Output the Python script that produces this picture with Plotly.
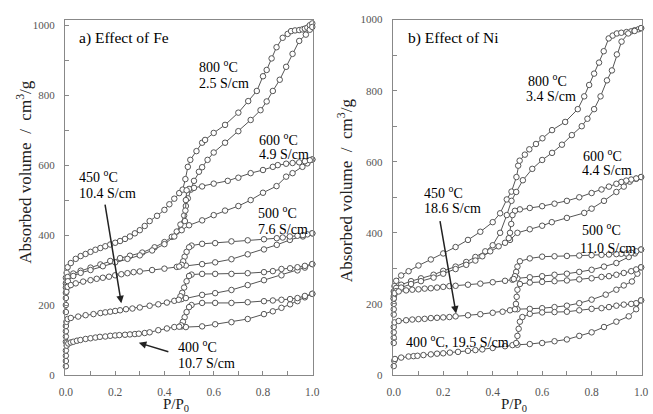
import plotly.graph_objects as go

# ---------------- Panel a) Effect of Fe ----------------
fe800_up_x = [0, 0, 0.003, 0.007, 0.02, 0.04, 0.06, 0.08, 0.1, 0.12, 0.14, 0.16, 0.18, 0.2, 0.22, 0.24, 0.26, 0.28, 0.3, 0.32, 0.34, 0.37, 0.4, 0.42, 0.44, 0.46, 0.474, 0.485, 0.495, 0.505, 0.53, 0.553, 0.565, 0.6, 0.646, 0.7, 0.74, 0.775, 0.8, 0.815, 0.835, 0.855, 0.88, 0.9, 0.914, 0.93, 0.947, 0.96, 0.97, 0.98, 0.99, 1.0]
fe800_up_y = [262, 278, 292, 308, 320, 332, 340, 346, 352, 358, 363, 368, 373, 378, 383, 389, 396, 405, 414, 426, 440, 455, 472, 488, 504, 520, 530, 560, 595, 615, 640, 664, 672, 692, 715, 750, 783, 812, 854, 872, 905, 937, 964, 975, 983, 985, 986, 988, 990, 993, 1000, 1005]
fe800_lo_x = [0, 0.003, 0.007, 0.03, 0.06, 0.1, 0.14, 0.18, 0.22, 0.26, 0.31, 0.36, 0.4, 0.43, 0.45, 0.465, 0.48, 0.487, 0.495, 0.507, 0.52, 0.54, 0.553, 0.575, 0.6, 0.646, 0.7, 0.75, 0.79, 0.815, 0.84, 0.868, 0.894, 0.92, 0.947, 0.974, 0.99, 1.0]
fe800_lo_y = [250, 266, 280, 290, 298, 307, 316, 326, 334, 341, 350, 365, 380, 395, 410, 430, 456, 483, 505, 530, 555, 581, 594, 615, 636, 664, 697, 729, 757, 782, 812, 844, 881, 918, 955, 973, 987, 995]
fe600_ads_x = [0, 0.003, 0.008, 0.03, 0.06, 0.1, 0.15, 0.2, 0.25, 0.3, 0.35, 0.4, 0.44, 0.47, 0.5, 0.553, 0.6, 0.646, 0.7, 0.75, 0.8, 0.855, 0.894, 0.92, 0.96, 0.98, 1.0]
fe600_ads_y = [235, 252, 268, 283, 292, 300, 311, 322, 332, 342, 356, 374, 396, 414, 428, 442, 457, 470, 483, 500, 521, 540, 567, 577, 595, 605, 616]
fe600_des_x = [1.0, 0.99, 0.97, 0.947, 0.92, 0.894, 0.86, 0.84, 0.8, 0.75, 0.7, 0.657, 0.6, 0.553, 0.52, 0.5, 0.49, 0.487, 0.485, 0.483]
fe600_des_y = [616, 614, 611, 608, 606, 604, 600, 595, 586, 577, 564, 555, 547, 539, 535, 532, 528, 500, 470, 440]
fe500_ads_x = [0, 0, 0, 0.002, 0.007, 0.02, 0.04, 0.07, 0.1, 0.125, 0.15, 0.175, 0.2, 0.225, 0.25, 0.275, 0.3, 0.35, 0.4, 0.45, 0.487, 0.553, 0.606, 0.672, 0.738, 0.804, 0.856, 0.909, 0.962, 1.0]
fe500_ads_y = [180, 200, 220, 238, 252, 257, 262, 267, 271, 275, 278, 281, 285, 288, 291, 294, 296, 300, 304, 309, 313, 317, 322, 331, 345, 359, 372, 386, 396, 405]
fe500_des_x = [1.0, 0.98, 0.962, 0.94, 0.909, 0.88, 0.856, 0.804, 0.738, 0.672, 0.606, 0.553, 0.51, 0.5, 0.49, 0.482, 0.476, 0.47, 0.46]
fe500_des_y = [405, 402, 400, 398, 396, 393, 391, 388, 385, 382, 377, 375, 370, 365, 352, 338, 325, 315, 310]
fe450_ads_x = [0, 0, 0, 0, 0.002, 0.007, 0.02, 0.05, 0.08, 0.112, 0.14, 0.16, 0.18, 0.2, 0.22, 0.244, 0.27, 0.3, 0.34, 0.375, 0.41, 0.44, 0.47, 0.487, 0.553, 0.606, 0.672, 0.738, 0.804, 0.875, 0.94, 0.97, 1.0]
fe450_ads_y = [95, 110, 125, 140, 152, 160, 163, 167, 171, 174, 177, 179, 181, 183, 185, 188, 190, 193, 198, 202, 207, 212, 217, 220, 229, 234, 243, 257, 271, 285, 299, 307, 317]
fe450_des_x = [1.0, 0.97, 0.94, 0.91, 0.875, 0.84, 0.804, 0.738, 0.672, 0.606, 0.553, 0.51, 0.5, 0.49, 0.48, 0.472, 0.465, 0.458]
fe450_des_y = [317, 312, 308, 305, 303, 297, 294, 291, 289, 289, 289, 287, 283, 268, 250, 235, 225, 215]
fe400_ads_x = [0, 0, 0, 0, 0.003, 0.01, 0.02, 0.03, 0.045, 0.059, 0.08, 0.1, 0.12, 0.138, 0.16, 0.18, 0.2, 0.217, 0.24, 0.26, 0.28, 0.296, 0.32, 0.34, 0.375, 0.41, 0.44, 0.47, 0.487, 0.553, 0.606, 0.672, 0.738, 0.804, 0.84, 0.875, 0.91, 0.94, 0.97, 1.0]
fe400_ads_y = [25, 40, 55, 70, 84, 90, 93, 95, 98, 100, 103, 105, 107, 109, 110, 112, 113, 114, 115, 116, 117, 118, 120, 122, 128, 133, 137, 139, 137, 139, 145, 151, 160, 174, 182, 192, 202, 211, 222, 232]
fe400_des_x = [1.0, 0.97, 0.94, 0.91, 0.875, 0.84, 0.804, 0.738, 0.672, 0.606, 0.553, 0.51, 0.5, 0.49, 0.482, 0.475, 0.468, 0.46]
fe400_des_y = [232, 226, 220, 217, 215, 213, 211, 208, 206, 206, 206, 200, 194, 180, 165, 152, 142, 138]

# ---------------- Panel b) Effect of Ni ----------------
ni800_up_x = [0, 0.003, 0.01, 0.03, 0.06, 0.1, 0.15, 0.2, 0.25, 0.3, 0.35, 0.4, 0.43, 0.457, 0.476, 0.496, 0.503, 0.509, 0.53, 0.548, 0.575, 0.601, 0.64, 0.693, 0.744, 0.77, 0.79, 0.81, 0.83, 0.849, 0.869, 0.885, 0.902, 0.92, 0.941, 0.96, 0.974, 0.99, 1.0]
ni800_up_y = [235, 250, 265, 280, 292, 308, 325, 342, 360, 380, 403, 430, 455, 494, 516, 557, 589, 603, 620, 635, 650, 666, 689, 712, 748, 784, 816, 848, 879, 911, 947, 955, 961, 963, 965, 967, 970, 973, 976]
ni800_lo_x = [0, 0.003, 0.01, 0.03, 0.07, 0.11, 0.161, 0.2, 0.25, 0.293, 0.33, 0.37, 0.4, 0.43, 0.457, 0.476, 0.495, 0.522, 0.56, 0.6, 0.64, 0.68, 0.72, 0.76, 0.783, 0.81, 0.836, 0.862, 0.882, 0.902, 0.921, 0.948, 0.974, 1.0]
ni800_lo_y = [222, 236, 245, 254, 264, 272, 282, 293, 305, 318, 332, 348, 365, 400, 450, 490, 515, 548, 580, 605, 625, 648, 675, 700, 721, 748, 784, 829, 857, 902, 938, 961, 968, 976]
ni600_ads_x = [0, 0.003, 0.01, 0.03, 0.07, 0.11, 0.161, 0.2, 0.25, 0.293, 0.33, 0.358, 0.39, 0.424, 0.45, 0.47, 0.5, 0.55, 0.6, 0.639, 0.7, 0.77, 0.8, 0.85, 0.9, 0.93, 0.954, 0.98, 1.0]
ni600_ads_y = [215, 228, 236, 246, 256, 264, 274, 285, 298, 310, 322, 334, 348, 362, 372, 380, 400, 410, 420, 430, 442, 456, 468, 490, 515, 530, 544, 552, 557]
ni600_des_x = [1.0, 0.98, 0.96, 0.94, 0.92, 0.9, 0.87, 0.84, 0.8, 0.75, 0.7, 0.65, 0.6, 0.55, 0.51, 0.49, 0.48, 0.475, 0.47, 0.465]
ni600_des_y = [557, 553, 550, 547, 543, 538, 530, 522, 512, 500, 490, 482, 475, 470, 466, 462, 450, 425, 400, 385]
ni500_ads_x = [0, 0, 0, 0, 0.003, 0.02, 0.05, 0.075, 0.1, 0.125, 0.15, 0.175, 0.2, 0.225, 0.25, 0.3, 0.35, 0.4, 0.45, 0.48, 0.5, 0.55, 0.6, 0.65, 0.7, 0.75, 0.8, 0.85, 0.9, 0.95, 0.975, 1.0]
ni500_ads_y = [170, 185, 200, 215, 230, 235, 238, 240, 241, 243, 244, 246, 248, 250, 251, 254, 257, 261, 265, 268, 272, 275, 278, 282, 285, 290, 296, 305, 315, 332, 342, 353]
ni500_des_x = [1.0, 0.98, 0.96, 0.94, 0.92, 0.9, 0.87, 0.84, 0.8, 0.75, 0.7, 0.65, 0.6, 0.55, 0.51, 0.5, 0.495, 0.49, 0.485]
ni500_des_y = [353, 348, 344, 342, 341, 340, 339, 338, 337, 336, 335, 334, 333, 328, 320, 305, 290, 278, 270]
ni450_ads_x = [0, 0, 0, 0, 0.003, 0.02, 0.05, 0.075, 0.1, 0.125, 0.15, 0.175, 0.2, 0.225, 0.25, 0.3, 0.35, 0.4, 0.44, 0.47, 0.5, 0.55, 0.6, 0.65, 0.7, 0.75, 0.8, 0.857, 0.9, 0.93, 0.963, 0.985, 1.0]
ni450_ads_y = [90, 105, 120, 135, 148, 152, 154, 156, 157, 158, 160, 161, 162, 163, 165, 168, 171, 175, 178, 182, 185, 186, 188, 191, 195, 202, 212, 226, 240, 252, 263, 285, 303]
ni450_des_x = [1.0, 0.98, 0.96, 0.93, 0.9, 0.87, 0.84, 0.8, 0.75, 0.7, 0.65, 0.6, 0.55, 0.51, 0.5, 0.497, 0.494, 0.49]
ni450_des_y = [303, 297, 292, 287, 282, 278, 276, 272, 269, 266, 264, 262, 260, 256, 240, 220, 200, 185]
ni400_ads_x = [0, 0.002, 0.005, 0.03, 0.06, 0.08, 0.096, 0.12, 0.15, 0.175, 0.2, 0.227, 0.26, 0.3, 0.33, 0.358, 0.4, 0.45, 0.48, 0.5, 0.55, 0.6, 0.65, 0.7, 0.75, 0.8, 0.85, 0.9, 0.95, 0.98, 1.0]
ni400_ads_y = [25, 40, 45, 49, 52, 53, 54, 56, 58, 60, 61, 63, 65, 68, 70, 72, 76, 81, 84, 85, 87, 90, 95, 100, 110, 120, 135, 150, 165, 185, 210]
ni400_des_x = [1.0, 0.98, 0.96, 0.93, 0.9, 0.87, 0.84, 0.8, 0.75, 0.7, 0.65, 0.6, 0.55, 0.52, 0.51, 0.505, 0.5, 0.495]
ni400_des_y = [210, 202, 200, 198, 195, 191, 188, 186, 182, 178, 177, 176, 172, 163, 150, 130, 110, 90]

x_ticks = [0.0, 0.2, 0.4, 0.6, 0.8, 1.0]
y_ticks = [0, 200, 400, 600, 800, 1000]

panel_a = [(fe800_up_x, fe800_up_y), (fe800_lo_x, fe800_lo_y),
           (fe600_ads_x, fe600_ads_y), (fe600_des_x, fe600_des_y),
           (fe500_ads_x, fe500_ads_y), (fe500_des_x, fe500_des_y),
           (fe450_ads_x, fe450_ads_y), (fe450_des_x, fe450_des_y),
           (fe400_ads_x, fe400_ads_y), (fe400_des_x, fe400_des_y)]
panel_b = [(ni800_up_x, ni800_up_y), (ni800_lo_x, ni800_lo_y),
           (ni600_ads_x, ni600_ads_y), (ni600_des_x, ni600_des_y),
           (ni500_ads_x, ni500_ads_y), (ni500_des_x, ni500_des_y),
           (ni450_ads_x, ni450_ads_y), (ni450_des_x, ni450_des_y),
           (ni400_ads_x, ni400_ads_y), (ni400_des_x, ni400_des_y)]

LINE = '#555555'
FONT = 'Liberation Serif'

fig = go.Figure()
for panel, (xa, ya) in ((panel_a, ('x', 'y')), (panel_b, ('x2', 'y2'))):
    for xs, ys in panel:
        fig.add_trace(go.Scatter(
            x=xs, y=ys, xaxis=xa, yaxis=ya, mode='lines+markers',
            line=dict(color=LINE, width=1),
            marker=dict(symbol='circle', size=5.5, color='white',
                        line=dict(color=LINE, width=1)),
            cliponaxis=False, showlegend=False, hoverinfo='skip'))

def xaxis_cfg(domain, anchor):
    return dict(domain=domain, anchor=anchor, range=[-0.004, 1.004],
                tickvals=x_ticks, ticktext=['%.1f' % v for v in x_ticks],
                ticks='inside', ticklen=4, tickcolor='#888888',
                minor=dict(dtick=0.1, tick0=0, ticks='inside', ticklen=4, tickcolor='#888888'),
                showline=True, linecolor='#888888', linewidth=1, mirror=True,
                showgrid=False, zeroline=False, ticklabelstandoff=6,
                tickfont=dict(family=FONT, size=11.5, color='#555555'))

def yaxis_cfg(domain, anchor, rng):
    return dict(domain=domain, anchor=anchor, range=rng,
                tickvals=y_ticks,
                ticks='inside', ticklen=4, tickcolor='#888888',
                minor=dict(dtick=100, tick0=0, ticks='inside', ticklen=4, tickcolor='#888888'),
                showline=True, linecolor='#888888', linewidth=1, mirror=True,
                showgrid=False, zeroline=False, ticklabelstandoff=7,
                tickfont=dict(family=FONT, size=11, color='#555555'))

W, H = 653, 414
ydom = [(H - 380) / H, (H - 14) / H]
fig.update_layout(
    width=W, height=H, margin=dict(l=0, r=0, t=0, b=0),
    paper_bgcolor='white', plot_bgcolor='white',
    xaxis=xaxis_cfg([60 / W, 313 / W], 'y'),
    yaxis=yaxis_cfg(ydom, 'x', [0, 1016]),
    xaxis2=xaxis_cfg([394 / W, 648 / W], 'y2'),
    yaxis2=yaxis_cfg(ydom, 'x2', [0, 1000]),
)

ann = []
def txt(text, x, y, xref, yref, size=14):
    ann.append(dict(text=text, x=x, y=y, xref=xref, yref=yref, showarrow=False,
                    xanchor='left', yanchor='middle',
                    font=dict(family=FONT, size=size, color='black')))

deg = '<sup>o</sup>C'
# panel a
txt('a) Effect of Fe', 0.046, 962, 'x', 'y', 15.5)
txt('800 ' + deg, 0.534, 883, 'x', 'y')
txt('2.5 S/cm', 0.534, 833, 'x', 'y')
txt('600 ' + deg, 0.777, 675, 'x', 'y')
txt('4.9 S/cm', 0.777, 629, 'x', 'y')
txt('450 ' + deg, 0.046, 569, 'x', 'y')
txt('10.4 S/cm', 0.046, 518, 'x', 'y')
txt('500 ' + deg, 0.771, 467, 'x', 'y')
txt('7.6 S/cm', 0.771, 416, 'x', 'y')
txt('400 ' + deg, 0.448, 83, 'x', 'y')
txt('10.7 S/cm', 0.448, 32, 'x', 'y')
# panel b
txt('b) Effect of Ni', 0.048, 947, 'x2', 'y2', 15.5)
txt('800 ' + deg, 0.534, 829, 'x2', 'y2')
txt('3.4 S/cm', 0.528, 783, 'x2', 'y2')
txt('600 ' + deg, 0.757, 619, 'x2', 'y2')
txt('4.4 S/cm', 0.751, 574, 'x2', 'y2')
txt('450 ' + deg, 0.114, 514, 'x2', 'y2')
txt('18.6 S/cm', 0.114, 469, 'x2', 'y2')
txt('500 ' + deg, 0.751, 410, 'x2', 'y2')
txt('11.0 S/cm', 0.744, 355, 'x2', 'y2')
txt('400 ' + deg + ', 19.5 S/cm', 0.042, 96, 'x2', 'y2')

def arrow(x, y, ax, ay, xref, yref):
    ann.append(dict(text='', x=x, y=y, ax=ax, ay=ay, xref=xref, yref=yref,
                    axref=xref, ayref=yref, showarrow=True, arrowhead=2,
                    arrowsize=1, arrowwidth=1.5, arrowcolor='#222222'))

arrow(0.225, 205, 0.158, 491, 'x', 'y')
arrow(0.296, 92, 0.422, 65, 'x', 'y')
arrow(0.252, 173, 0.186, 437, 'x2', 'y2')

# axis titles
for xc, yc in ((18, 171), (346, 190)):
    ann.append(dict(text='Absorbed volume  /  cm<sup>3</sup>/g', x=xc / W, y=(H - yc) / H,
                    xref='paper', yref='paper', showarrow=False, textangle=-90,
                    xanchor='center', yanchor='middle',
                    font=dict(family=FONT, size=17, color='#222222')))
for xc, yc in ((173, 411), (518, 411)):
    ann.append(dict(text='P/P<sub>0</sub>', x=xc / W, y=(H - yc) / H,
                    xref='paper', yref='paper', showarrow=False,
                    xanchor='center', yanchor='middle',
                    font=dict(family=FONT, size=15, color='#222222')))

fig.update_layout(annotations=ann)
fig.write_html('out.html')
